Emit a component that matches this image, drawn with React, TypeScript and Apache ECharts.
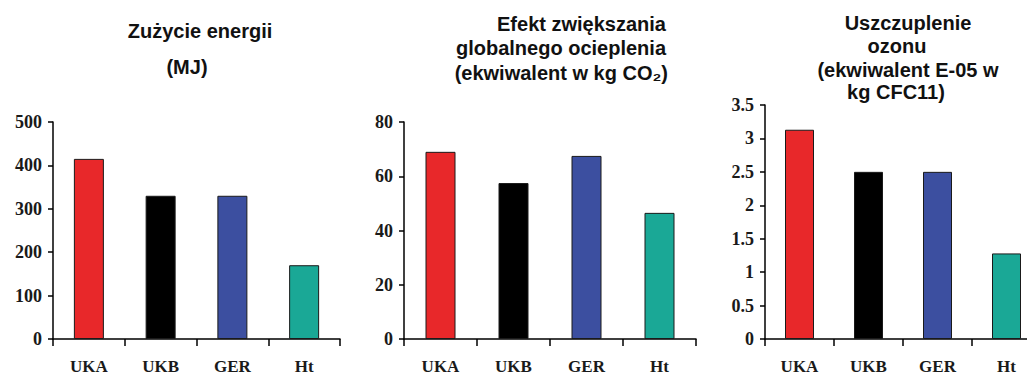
import React, { useEffect, useRef } from "react";
import * as echarts from "echarts";

const categories = ["UKA", "UKB", "GER", "Ht"];
const energyValues = [415, 330, 330, 170];
const warmingValues = [69, 57.5, 67.5, 46.5];
const ozoneValues = [3.13, 2.5, 2.5, 1.28];
const barColors = ["#e8282a", "#000000", "#3c4fa0", "#1aa896"];

const title1 = ["Zużycie energii", "(MJ)"];
const title2 = ["Efekt zwiększania", "globalnego ocieplenia", "(ekwiwalent w kg CO₂)"];
const title3 = ["Uszczuplenie", "ozonu", "(ekwiwalent E-05 w", "kg CFC11)"];

const yRanges = [
  { max: 500, interval: 100 },
  { max: 80, interval: 20 },
  { max: 3.5, interval: 0.5 },
];

export default function App() {
  const ref = useRef<HTMLDivElement>(null);
  useEffect(() => {
    document.body.style.margin = "0";
    const chart = echarts.init(ref.current!, null, { renderer: "svg" });
    const axisLineStyle = { color: "#000", width: 1.5 };
    const grids = [
      { left: 53, top: 122, width: 287, height: 217, outerBoundsMode: "none" },
      { left: 404, top: 122, width: 292, height: 217, outerBoundsMode: "none" },
      { left: 765, top: 105, width: 276, height: 234, outerBoundsMode: "none" },
    ];
    const allData = [energyValues, warmingValues, ozoneValues];
    const titleFont = {
      fontFamily: "Liberation Sans, Arial, sans-serif",
      fontWeight: "bold",
      fontSize: 20,
      fill: "#111",
    };
    const mk = (text: string, x: number, y: number, align: string) => ({
      type: "text",
      x,
      y,
      style: { ...titleFont, text, textAlign: align, textVerticalAlign: "middle" },
    });
    const graphics = [
      mk(title1[0], 200, 31, "center"),
      mk(title1[1], 187, 67, "center"),
      mk(title2[0], 666, 24, "right"),
      mk(title2[1], 666, 48, "right"),
      mk(title2[2], 668, 73, "right"),
      mk(title3[0], 908, 23, "center"),
      mk(title3[1], 897, 46, "center"),
      mk(title3[2], 908, 70, "center"),
      mk(title3[3], 896, 92, "center"),
    ];
    chart.setOption({
      animation: false,
      grid: grids,
      xAxis: grids.map((_, i) => ({
        type: "category",
        gridIndex: i,
        data: categories,
        boundaryGap: true,
        axisLine: { show: true, lineStyle: axisLineStyle },
        axisTick: { show: true, length: 7, lineStyle: axisLineStyle },
        axisLabel: {
          fontFamily: "Liberation Serif, Times New Roman, serif",
          fontWeight: "bold",
          fontSize: 17,
          lineHeight: 17,
          color: "#1a1a1a",
          margin: 19,
        },
      })),
      yAxis: yRanges.map((r, i) => ({
        type: "value",
        gridIndex: i,
        min: 0,
        max: r.max,
        interval: r.interval,
        axisLine: { show: true, lineStyle: axisLineStyle },
        axisTick: { show: true, length: 5, lineStyle: axisLineStyle },
        splitLine: { show: false },
        axisLabel: {
          fontFamily: "Liberation Serif, Times New Roman, serif",
          fontWeight: "bold",
          fontSize: 18,
          color: "#1a1a1a",
          margin: 11,
        },
      })),
      series: allData.map((vals, i) => ({
        type: "bar",
        xAxisIndex: i,
        yAxisIndex: i,
        barWidth: i === 2 ? 29 : 30,
        data: vals.map((v, j) => ({
          value: v,
          itemStyle: { color: barColors[j], borderColor: "#1a1a1a", borderWidth: 1 },
        })),
      })),
      graphic: graphics,
    });
    return () => chart.dispose();
  }, []);
  return (
    <div
      ref={ref}
      style={{ position: "absolute", left: 0, top: 0, width: 1027, height: 377, background: "#fff" }}
    />
  );
}
